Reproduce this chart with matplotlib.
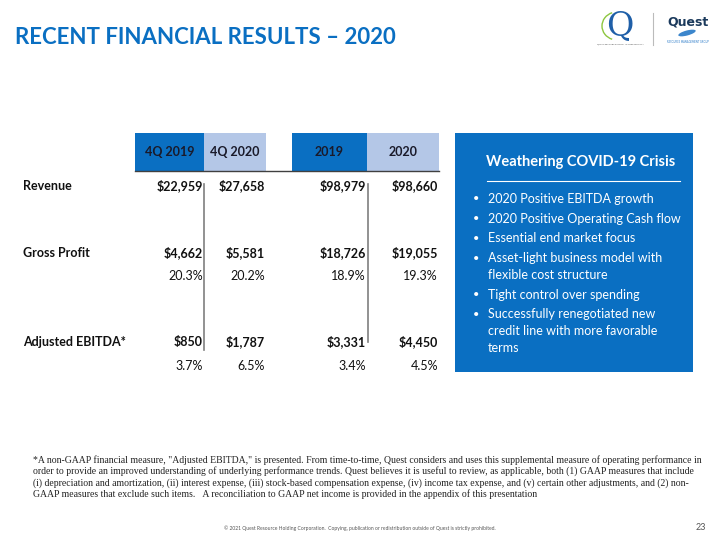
import matplotlib
matplotlib.use("Agg")
import matplotlib.pyplot as plt
from matplotlib.patches import Rectangle, Ellipse, Arc

# ---- data ----
columns = ["4Q 2019", "4Q 2020", "2019", "2020"]
row_labels = ["Revenue", "Gross Profit", "Adjusted EBITDA*"]
revenue = [22959, 27658, 98979, 98660]
gross_profit = [4662, 5581, 18726, 19055]
gross_margin = [20.3, 20.2, 18.9, 19.3]
adj_ebitda = [850, 1787, 3331, 4450]
ebitda_margin = [3.7, 6.5, 3.4, 4.5]

box_title = "Weathering COVID-19 Crisis"
bullets = [
    "2020 Positive EBITDA growth",
    "2020 Positive Operating Cash flow",
    "Essential end market focus",
    "Asset-light business model with\nflexible cost structure",
    "Tight control over spending",
    "Successfully renegotiated new\ncredit line with more favorable\nterms",
]

title = "RECENT FINANCIAL RESULTS \u2013 2020"
footnote = ("*A non-GAAP financial measure, \"Adjusted EBITDA,\" is presented. From time-to-time, Quest considers and uses this supplemental measure of operating performance in\n"
            "order to provide an improved understanding of underlying performance trends. Quest believes it is useful to review, as applicable, both (1) GAAP measures that include\n"
            "(i) depreciation and amortization, (ii) interest expense, (iii) stock-based compensation expense, (iv) income tax expense, and (v) certain other adjustments, and (2) non-\n"
            "GAAP measures that exclude such items.   A reconciliation to GAAP net income is provided in the appendix of this presentation")
footer = "\u00a9 2021 Quest Resource Holding Corporation.  Copying, publication or redistribution outside of Quest is strictly prohibited."
page_no = "23"

# ---- style ----
BLUE = "#0A6FC2"
LIGHT = "#B4C7E7"
TXT = "#111111"
SANS = ["Lato", "DejaVu Sans"]
SERIF = ["Liberation Serif", "DejaVu Serif"]

fig = plt.figure(figsize=(7.2, 5.4), dpi=100)
ax = fig.add_axes([0, 0, 1, 1])
ax.set_xlim(0, 720)
ax.set_ylim(540, 0)
ax.axis("off")

# title
ax.text(15, 38, title, fontsize=16, fontweight="bold", color=BLUE,
        family=SANS, va="center", ha="left")

# logo (approximation)
ax.text(620, 26, "Q", fontsize=24, color="#1F5FA8", family=["DejaVu Serif"],
        va="center", ha="center")
ax.add_patch(Arc((617, 26), 30, 28, theta1=110, theta2=250, color="#8DC63F", lw=1.0))
ax.text(620, 44, "QUEST RESOURCE HOLDING CORPORATION", fontsize=1.6, color="#555555",
        family=SANS, va="center", ha="center")
ax.plot([653, 653], [13, 45], color="#BBBBBB", lw=0.8)
ax.text(688, 22, "Quest", fontsize=9, fontweight="heavy", color="#1B3A5C",
        family=["DejaVu Sans"], va="center", ha="center")
ax.add_patch(Ellipse((687, 33), 18, 5, angle=-15, facecolor="#3C86CC", edgecolor="none"))
ax.text(688, 42, "RESOURCE MANAGEMENT GROUP", fontsize=1.8, color="#2A7AC8",
        family=SANS, va="center", ha="center")

# table header
col_left = [135, 204, 292, 367]
col_right = [204, 266, 367, 439]
head_colors = [BLUE, LIGHT, BLUE, LIGHT]
for c, l, r, fc in zip(columns, col_left, col_right, head_colors):
    ax.add_patch(Rectangle((l, 133), r - l, 38, facecolor=fc, edgecolor="none"))
    ax.text((l + r) / 2, 152, c, fontsize=9, fontweight="bold", color="#1A1A2A",
            family=SANS, va="center", ha="center")
ax.plot([135, 439], [171, 171], color="#404040", lw=1.0)

# vertical separators
ax.plot([204, 204], [184, 350], color="#7F7F7F", lw=1.2)
ax.plot([368, 368], [184, 342], color="#7F7F7F", lw=1.2)

val_right = [203, 265, 366, 438]
row_y = {"rev": 186, "gp": 253, "gpm": 276, "eb": 342, "ebm": 366}

ax.text(23, row_y["rev"], row_labels[0], fontsize=9, fontweight="bold", color=TXT,
        family=SANS, va="center")
ax.text(23, row_y["gp"], row_labels[1], fontsize=9, fontweight="bold", color=TXT,
        family=SANS, va="center")
ax.text(23, row_y["eb"], row_labels[2], fontsize=9, fontweight="bold", color=TXT,
        family=SANS, va="center")

for i, xr in enumerate(val_right):
    ax.text(xr, row_y["rev"], f"${revenue[i]:,}", fontsize=9, fontweight="bold",
            color=TXT, family=SANS, va="center", ha="right")
    ax.text(xr, row_y["gp"], f"${gross_profit[i]:,}", fontsize=9, fontweight="bold",
            color=TXT, family=SANS, va="center", ha="right")
    ax.text(xr, row_y["gpm"], f"{gross_margin[i]:.1f}%", fontsize=9,
            color=TXT, family=SANS, va="center", ha="right")
    ax.text(xr, row_y["eb"], f"${adj_ebitda[i]:,}", fontsize=9, fontweight="bold",
            color=TXT, family=SANS, va="center", ha="right")
    ax.text(xr, row_y["ebm"], f"{ebitda_margin[i]:.1f}%", fontsize=9,
            color=TXT, family=SANS, va="center", ha="right")

# right box
ax.add_patch(Rectangle((455, 133), 238, 239, facecolor=BLUE, edgecolor="none"))
ax.text(581, 162, box_title, fontsize=10.5, fontweight="bold", color="white",
        family=SANS, va="center", ha="center")
ax.plot([487, 680], [181, 181], color="white", lw=0.8)
y = 199
wrap_h = 17.0
item_h = 19.7
for b in bullets:
    lines = b.split("\n")
    ax.text(476, y, "\u2022", fontsize=8, color="white", family=SANS, va="center", ha="center")
    for k, ln in enumerate(lines):
        ax.text(488, y + k * wrap_h, ln, fontsize=9, color="white", family=SANS,
                va="center", ha="left")
    y += (len(lines) - 1) * wrap_h + item_h

# footnote
ax.text(33, 477, footnote, fontsize=7.05, color="#222222", family=SERIF,
        va="center", ha="left", linespacing=1.2)

# footer
ax.text(360, 528, footer, fontsize=3.6, color="#555555", family=SANS,
        va="center", ha="center")
ax.text(706, 528, page_no, fontsize=6.5, color="#555555", family=SANS,
        va="center", ha="right")

fig.savefig("out.png", dpi=100)
